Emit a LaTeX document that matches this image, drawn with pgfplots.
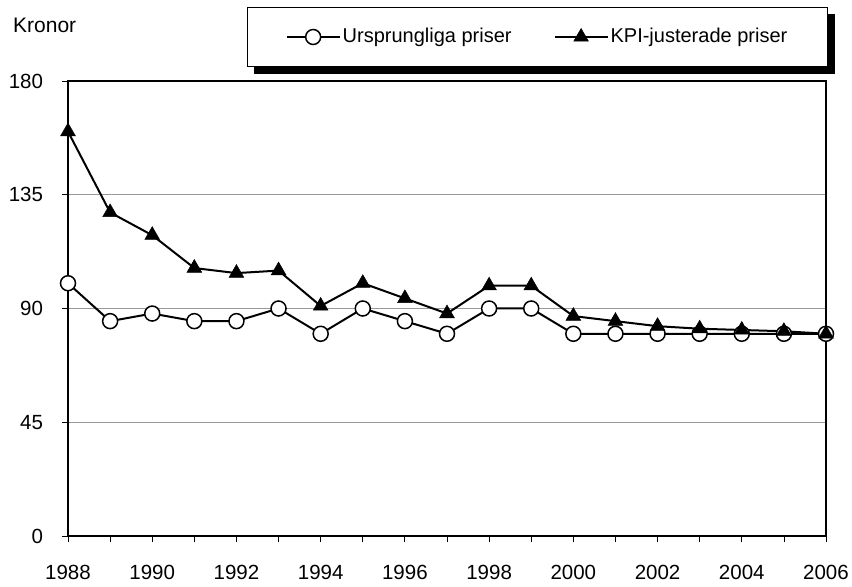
\documentclass[border=0pt]{standalone}
\usepackage{fontspec}
\setmainfont{Liberation Sans}
\usepackage{pgfplots}
\pgfplotsset{compat=1.18}
\pgfdeclarelayer{background}
\pgfsetlayers{background,main}
\begin{document}
\fontsize{20.5bp}{24bp}\selectfont
\begin{tikzpicture}
\begin{axis}[
  scale only axis,
  width=758bp, height=455bp,
  xmin=1988, xmax=2006, ymin=0, ymax=180,
  xtick={1988,1990,...,2006},
  minor xtick={1989,1991,...,2005},
  ytick={0,45,90,135,180},
  /pgf/number format/1000 sep={},
  /pgf/number format/assume math mode=true,
  tick align=outside,
  major tick length=6bp, minor tick length=6bp,
  tick style={black, line width=0.8bp},
  xtick pos=bottom, ytick pos=left,
  axis line style={black, line width=2bp},
  ymajorgrids, grid style={gray!80, line width=0.9bp},
  xticklabel style={yshift=-16bp},
  yticklabel style={xshift=-12bp},
  tick label style={font=\fontsize{20.5bp}{24bp}\selectfont},
  clip=false,
  legend columns=2,
  legend style={at={(axis description cs:0.2361,1.1626)}, anchor=north west,
    name=leg,
    draw=black, line width=1.4bp, fill=white,
    inner xsep=38bp, inner ysep=18.5bp,
    /tikz/every even column/.append style={column sep=40bp},
    font=\fontsize{20bp}{24bp}\selectfont},
  legend image code/.code={\draw[mark repeat=2, mark phase=2, line width=2bp] plot coordinates {(0bp,0bp) (26.5bp,0bp) (53bp,0bp)};},
]
\addplot[black, line width=2bp, mark=*, mark size=7.5bp, mark options={fill=white, line width=1.5bp}]
  coordinates {(1988,100) (1989,85) (1990,88) (1991,85) (1992,85) (1993,90) (1994,80) (1995,90) (1996,85) (1997,80) (1998,90) (1999,90) (2000,80) (2001,80) (2002,80) (2003,80) (2004,80) (2005,80) (2006,80)};
\addlegendentry{Ursprungliga priser}
\addplot[black, line width=2bp, mark=triangle*, mark size=8.5bp, mark options={fill=black, line width=0.5bp}]
  coordinates {(1988,160) (1989,128) (1990,119) (1991,106) (1992,104) (1993,105) (1994,91) (1995,100) (1996,94) (1997,88) (1998,99) (1999,99) (2000,87) (2001,85) (2002,83) (2003,82) (2004,81.5) (2005,81) (2006,80)};
\addlegendentry{KPI-justerade priser}
\node[anchor=base west, inner sep=0pt, font=\fontsize{21bp}{25bp}\selectfont] at (axis description cs:-0.0726,1.1055) {Kronor};
\coordinate (bl) at (rel axis cs:0,0);
\coordinate (tr) at (rel axis cs:1,1);
\end{axis}
\begin{pgfonlayer}{background}
\fill[black] ([shift={(7bp,-7bp)}]leg.south west) rectangle ([shift={(7bp,-7bp)}]leg.north east);
\end{pgfonlayer}
\pgfresetboundingbox
\path[use as bounding box] ([shift={(-68bp,-51bp)}]bl) rectangle ([shift={(26bp,81bp)}]tr);
\end{tikzpicture}
\end{document}
